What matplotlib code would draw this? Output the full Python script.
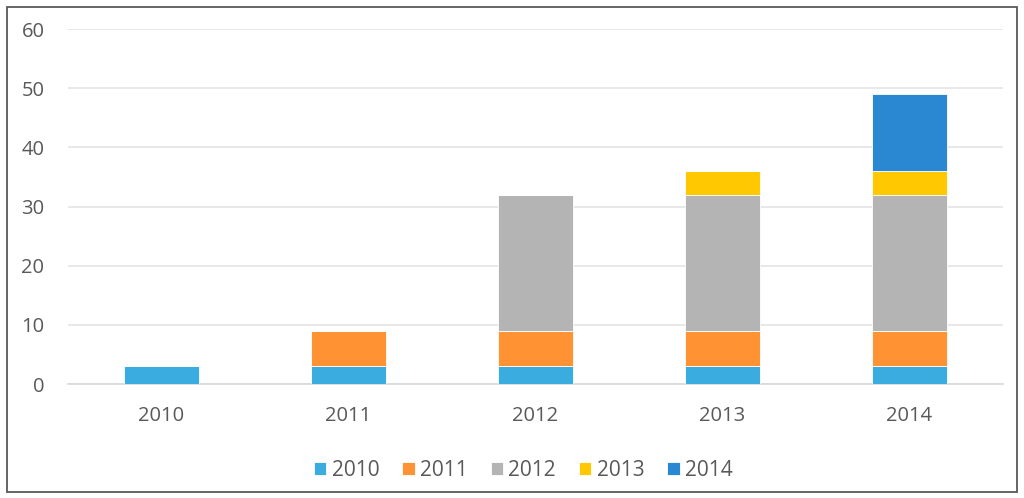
import matplotlib
matplotlib.use("Agg")
import matplotlib.pyplot as plt
from matplotlib.patches import Rectangle
import numpy as np

# Categories on the x axis and one stacked series per year.
categories = ["2010", "2011", "2012", "2013", "2014"]
series_names = ["2010", "2011", "2012", "2013", "2014"]
s2010 = [3, 3, 3, 3, 3]
s2011 = [0, 6, 6, 6, 6]
s2012 = [0, 0, 23, 23, 23]
s2013 = [0, 0, 0, 4, 4]
s2014 = [0, 0, 0, 0, 13]
yticks = [0, 10, 20, 30, 40, 50, 60]

colors = ["#3AACE0", "#FF9233", "#B4B4B4", "#FFC800", "#2A88D2"]
text_color = "#595959"

plt.rcParams['font.family'] = ['Open Sans', 'DejaVu Sans']

fig = plt.figure(figsize=(10.24, 4.98), dpi=100)
ax = fig.add_axes([68 / 1024, 114 / 498, 935 / 1024, 355 / 498])

x = np.arange(len(categories))
bottom = np.zeros(len(categories))
for name, vals, c in zip(series_names, [s2010, s2011, s2012, s2013, s2014], colors):
    vals = np.array(vals, dtype=float)
    ax.bar(x, vals, 0.4, bottom=bottom, color=c, label=name,
           edgecolor="#FFFFFF", linewidth=0.6, zorder=3)
    bottom += vals

ax.set_xlim(-0.5, len(categories) - 0.5)
ax.set_ylim(0, 60)
ax.set_yticks(yticks)
ax.set_xticks(x)
ax.set_xticklabels(categories)
ax.grid(axis="y", color="#E4E4E4", linewidth=1.2, zorder=0)
for side in ["top", "right", "left"]:
    ax.spines[side].set_visible(False)
ax.spines["bottom"].set_color("#D9D9D9")
ax.spines["bottom"].set_linewidth(1.2)
ax.tick_params(axis="both", length=0, labelsize=14.5, colors=text_color)
ax.tick_params(axis="x", pad=16)
ax.tick_params(axis="y", pad=17)

leg = fig.legend(loc="center", bbox_to_anchor=(0.511, 0.055), ncol=5,
                 frameon=False, fontsize=15, handlelength=0.6, handleheight=0.6,
                 handletextpad=0.25, columnspacing=1.1)
for t in leg.get_texts():
    t.set_color(text_color)

# Dark frame around the whole chart
fig.patches.append(Rectangle((7 / 1024, 6 / 498), 1010 / 1024, 485 / 498,
                             transform=fig.transFigure, fill=False,
                             edgecolor="#595959", linewidth=1.3))

fig.savefig("out.png", dpi=100)
